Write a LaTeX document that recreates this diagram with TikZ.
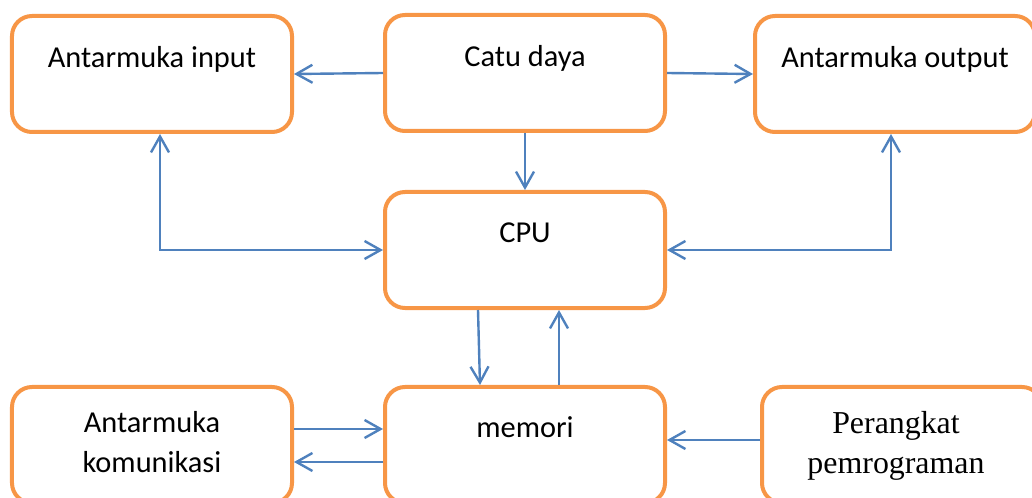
\documentclass[tikz,border=0pt]{standalone}
\usepackage{fontspec}
\setmainfont{Carlito}
\newfontfamily\timesfont{Liberation Serif}
\usetikzlibrary{arrows.meta}
\definecolor{boxorange}{HTML}{F79646}
\definecolor{lineblue}{HTML}{4F81BD}
\tikzset{>={Straight Barb[length=16bp,width=18bp]}}
\tikzset{
  blok/.style={draw=boxorange, line width=4bp, rounded corners=20bp,
    minimum width=280bp, minimum height=116bp},
  teks/.style={anchor=base, align=center, font=\fontsize{30.5}{40}\selectfont},
  panah/.style={draw=lineblue, line width=2.4bp, ->}
}

\begin{document}
\begin{tikzpicture}[x=1bp,y=-1bp]
\useasboundingbox (0,0) rectangle (1032,498);
\clip (0,0) rectangle (1032,498);
% kotak
\node[blok] (input) at (152,74) {};
\node[blok] (catu) at (525,73) {};
\node[blok] (output) at (895,74) {};
\node[blok] (cpu) at (525,250) {};
\node[blok] (komunikasi) at (152,445) {};
\node[blok] (memori) at (525,445) {};
\node[blok] (perangkat) at (902,445) {};
% tulisan (anchor base = baris terakhir)
\node[teks] (tinput) at (152,68) {Antarmuka input};
\node[teks] (tcatu) at (525,67) {Catu daya};
\node[teks] (toutput) at (895,68) {Antarmuka output};
\node[teks] (tcpu) at (525,243) {CPU};
\node[teks] (tmemori) at (525,437) {memori};
\node[teks] (tkomunikasi) at (152,472) {Antarmuka\\komunikasi};
\node[teks, font=\timesfont\fontsize{32}{40}\selectfont] (tperangkat) at (896,473) {Perangkat\\pemrograman};
% panah
\draw[panah] (catu.west) -- (input.east);
\draw[panah] (catu.east) -- (output.west);
\draw[panah] (catu.south) -- (cpu.north);
\draw[panah, <->] (cpu.west) -| ([xshift=8bp]input.south);
\draw[panah, <->] (cpu.east) -| ([xshift=-4bp]output.south);
\draw[panah] ([xshift=-47bp]cpu.south) -- ([xshift=-45bp]memori.north);
\draw[panah] ([xshift=34bp]memori.north) -- ([xshift=34bp]cpu.south);
\draw[panah] ([yshift=16bp]komunikasi.east) -- ([yshift=16bp]memori.west);
\draw[panah] ([yshift=-17bp]memori.west) -- ([yshift=-17bp]komunikasi.east);
\draw[panah] ([yshift=5bp]perangkat.west) -- ([yshift=5bp]memori.east);
\end{tikzpicture}
\end{document}
